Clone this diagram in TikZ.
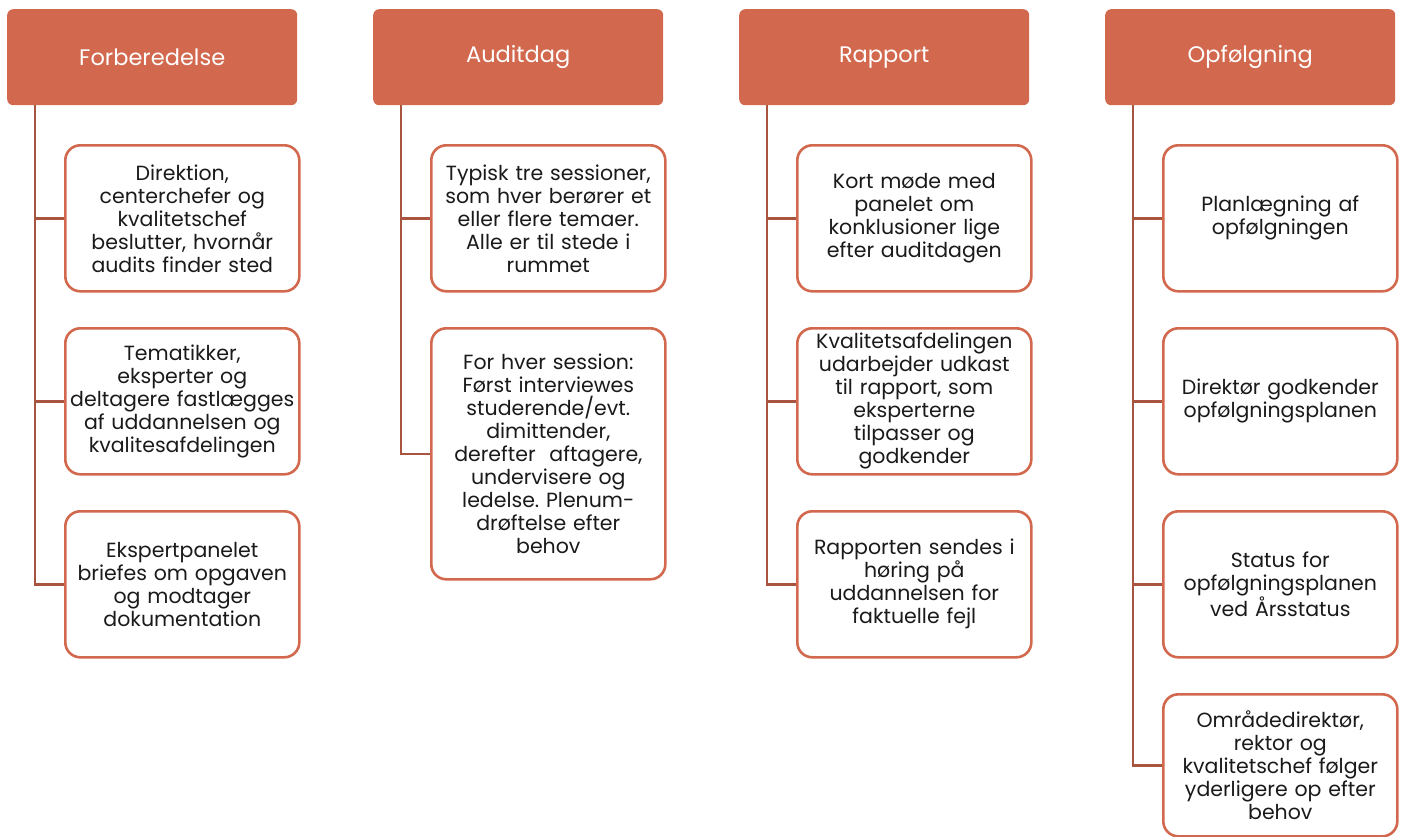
\documentclass[tikz,border=0pt]{standalone}
\usepackage{fontspec}
\setmainfont{Poppins}
\frenchspacing
\definecolor{headfill}{HTML}{D2694E}
\definecolor{boxline}{HTML}{D2694E}
\definecolor{connline}{HTML}{A8543F}
\definecolor{txt}{HTML}{1A1A1A}
\begin{document}
\begin{tikzpicture}[x=1pt,y=-1pt,
  headbox/.style={fill=headfill,draw=none,rounded corners=6pt,minimum width=290pt,minimum height=96pt,text=white,font=\fontsize{22.5}{26}\selectfont,anchor=north west,inner sep=0pt},
  itembox/.style={draw=boxline,line width=2.6pt,fill=white,rounded corners=15pt,minimum width=234pt,text width=228pt,align=center,text=txt,font=\fontsize{20.5}{23}\selectfont,anchor=north west,inner sep=0pt},
  conn/.style={draw=connline,line width=2.6pt}]
\useasboundingbox (0,0) rectangle (1402,836);
% headers
\node[headbox] (h1) at (7,9) {Forberedelse};
\node[headbox] (h2) at (373,9) {Auditdag};
\node[headbox] (h3) at (739,9) {Rapport};
\node[headbox] (h4) at (1105,9) {Opfølgning};
% column 1
\node[itembox,minimum height=146pt] (b11) at (64,144) {Direktion,\\centerchefer og\\kvalitetschef\\beslutter, hvornår\\audits finder sted};
\node[itembox,minimum height=146pt] (b12) at (64,327) {Tematikker,\\eksperter og\\deltagere fastlægges\\af uddannelsen og\\kvalitesafdelingen};
\node[itembox,minimum height=146pt] (b13) at (64,510) {Ekspertpanelet\\briefes om opgaven\\og modtager\\dokumentation};
% column 2
\node[itembox,minimum height=146pt] (b21) at (430,144) {Typisk tre sessioner,\\som hver berører et\\eller flere temaer.\\Alle er til stede i\\rummet};
\node[itembox,minimum height=251pt] (b22) at (430,327) {For hver session:\\Først interviewes\\studerende/evt.\\dimittender,\\derefter\ \ aftagere,\\undervisere og\\ledelse. Plenum-\\drøftelse efter\\behov};
% column 3
\node[itembox,minimum height=146pt] (b31) at (796,144) {Kort møde med\\panelet om\\konklusioner lige\\efter auditdagen};
\node[itembox,minimum height=146pt] (b32) at (796,327) {Kvalitetsafdelingen\\udarbejder udkast\\til rapport, som\\eksperterne\\tilpasser og\\godkender};
\node[itembox,minimum height=146pt] (b33) at (796,510) {Rapporten sendes i\\høring på\\uddannelsen for\\faktuelle fejl};
% column 4
\node[itembox,minimum height=146pt] (b41) at (1162,144) {Planlægning af\\opfølgningen};
\node[itembox,minimum height=146pt] (b42) at (1162,327) {Direktør godkender\\opfølgningsplanen};
\node[itembox,minimum height=146pt] (b43) at (1162,510) {Status for\\opfølgningsplanen\\ved Årsstatus};
\node[itembox,minimum height=142pt] (b44) at (1162,693) {Områdedirektør,\\rektor og\\kvalitetschef følger\\yderligere op efter\\behov};
% trunks
\coordinate (v1) at (35,105);
\coordinate (v2) at (401,105);
\coordinate (v3) at (767,105);
\coordinate (v4) at (1133,105);
\draw[conn] (v1) |- (b13.west);
\draw[conn] (v1 |- b11.west) -- (b11.west);
\draw[conn] (v1 |- b12.west) -- (b12.west);
\draw[conn] (v2) |- (b22.west);
\draw[conn] (v2 |- b21.west) -- (b21.west);
\draw[conn] (v3) |- (b33.west);
\draw[conn] (v3 |- b31.west) -- (b31.west);
\draw[conn] (v3 |- b32.west) -- (b32.west);
\draw[conn] (v4) |- (b44.west);
\draw[conn] (v4 |- b41.west) -- (b41.west);
\draw[conn] (v4 |- b42.west) -- (b42.west);
\draw[conn] (v4 |- b43.west) -- (b43.west);
\end{tikzpicture}
\end{document}
